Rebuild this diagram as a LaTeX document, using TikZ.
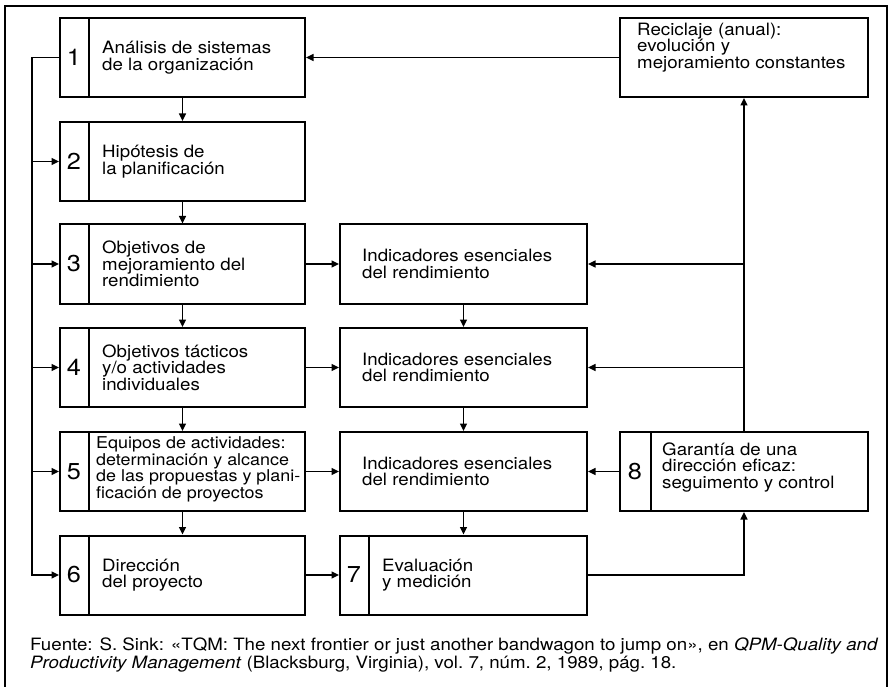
\documentclass[tikz,border=0pt]{standalone}
\usepackage{fontspec}
\setmainfont[FakeStretch=1.1]{TeX Gyre Heros}
\usetikzlibrary{arrows.meta}
\tikzset{
 bx/.style={draw, line width=2pt, inner sep=0pt, minimum height=79pt},
 w1/.style={minimum width=245pt},
 w2/.style={minimum width=247pt},
 w3/.style={minimum width=248pt},
 num/.style={font=\fontsize{23}{23}\selectfont, inner sep=0pt},
 txt/.style={font=\fontsize{17}{16.5}\selectfont, align=left, anchor=west, inner sep=0pt},
 txtsm/.style={font=\fontsize{16.3}{16.5}\selectfont, align=left, anchor=west, inner sep=0pt},
 captxt/.style={font=\fontsize{17}{18}\selectfont, anchor=base west, inner sep=0pt},
 arr/.style={line width=1.5pt, -{Triangle[length=7.5pt,width=7pt]}},
 ln/.style={line width=1.5pt},
 dv/.style={line width=2pt},
}
\begin{document}
\begin{tikzpicture}[x=1pt,y=-1pt]
\useasboundingbox (0,0) rectangle (892,687);
% frame
\draw[ln] (5,687) -- (5,6) -- (887,6) -- (887,687);
% boxes
\node[bx,w1] (b1) at (182.5,57.5) {};
\node[bx,w1] (b2) at (182.5,161.5) {};
\node[bx,w1] (b3) at (182.5,264) {};
\node[bx,w1] (b4) at (182.5,367.5) {};
\node[bx,w1] (b5) at (182.5,471.5) {};
\node[bx,w1] (b6) at (182.5,575) {};
\node[bx,w2] (i3) at (463.5,264) {};
\node[bx,w2] (i4) at (463.5,367.5) {};
\node[bx,w2] (i5) at (463.5,471.5) {};
\node[bx,w2] (b7) at (463.5,575) {};
\node[bx,w3] (rec) at (744,57.5) {};
\node[bx,w3] (b8) at (744,471.5) {};
% dividers
\foreach \b in {b1,b2,b3,b4,b5,b6,b7}
  \draw[dv] ([xshift=30pt]\b.north west) -- ([xshift=30pt]\b.south west);
\draw[dv] ([xshift=32pt]b8.north west) -- ([xshift=32pt]b8.south west);
% numbers
\node[num] (n1) at ([xshift=15pt]b1.west) {1};
\node[num] (n2) at ([xshift=15pt]b2.west) {2};
\node[num] (n3) at ([xshift=15pt]b3.west) {3};
\node[num] (n4) at ([xshift=15pt]b4.west) {4};
\node[num] (n5) at ([xshift=15pt]b5.west) {5};
\node[num] (n6) at ([xshift=15pt]b6.west) {6};
\node[num] (n7) at ([xshift=15pt]b7.west) {7};
\node[num] (n8) at ([xshift=16pt]b8.west) {8};
% texts
\node[txt] (t1) at ([xshift=43pt]b1.west) {Análisis de sistemas\\de la organización};
\node[txt] (t2) at ([xshift=43pt]b2.west) {Hipótesis de\\la planificación};
\node[txt] (t3) at ([xshift=43pt]b3.west) {Objetivos de\\mejoramiento del\\rendimiento};
\node[txt] (t4) at ([xshift=43pt]b4.west) {Objetivos tácticos\\y/o actividades\\individuales};
\node[txtsm] (t5) at ([xshift=37pt,yshift=2pt]b5.west) {Equipos de actividades:\\determinación y alcance\\de las propuestas y plani-\\ficación de proyectos};
\node[txt] (t6) at ([xshift=43pt]b6.west) {Dirección\\del proyecto};
\node[txt] (ti3) at ([xshift=23pt]i3.west) {Indicadores esenciales\\del rendimiento};
\node[txt] (ti4) at ([xshift=23pt]i4.west) {Indicadores esenciales\\del rendimiento};
\node[txt] (ti5) at ([xshift=23pt]i5.west) {Indicadores esenciales\\del rendimiento};
\node[txt] (t7) at ([xshift=43pt]b7.west) {Evaluación\\y medición};
\node[txt] (trec) at ([xshift=18pt,yshift=10pt]rec.west) {Reciclaje (anual):\\evolución y\\mejoramiento constantes};
\node[txt] (t8) at ([xshift=43pt,yshift=4pt]b8.west) {Garantía de una\\dirección eficaz:\\seguimento y control};
% column arrows
\draw[arr] (b1.south) -- (b2.north);
\draw[arr] (b2.south) -- (b3.north);
\draw[arr] (b3.south) -- (b4.north);
\draw[arr] (b4.south) -- (b5.north);
\draw[arr] (b5.south) -- (b6.north);
\draw[arr] (i3.south) -- (i4.north);
\draw[arr] (i4.south) -- (i5.north);
\draw[arr] (i5.south) -- (b7.north);
% row arrows
\draw[arr] (b3.east) -- (i3.west);
\draw[arr] (b4.east) -- (i4.west);
\draw[arr] (b5.east) -- (i5.west);
\draw[arr] (b6.east) -- (b7.west);
\draw[arr] (b8.west) -- (i5.east);
\draw[arr] (rec.west) -- (b1.east);
% right feedback
\draw[arr] (b8.north) -- (rec.south);
\draw[arr] (b8.north |- i3.east) -- (i3.east);
\draw[arr] (b8.north |- i4.east) -- (i4.east);
\draw[arr] (b7.east) -| (b8.south);
% left feedback
\coordinate (lt) at (32,57.5);
\draw[ln] (b1.west) -- (lt);
\draw[arr] (lt) |- (b6.west);
\draw[arr] (lt |- b2.west) -- (b2.west);
\draw[arr] (lt |- b3.west) -- (b3.west);
\draw[arr] (lt |- b4.west) -- (b4.west);
\draw[arr] (lt |- b5.west) -- (b5.west);
% caption
\node[captxt] (c1) at (30,650) {Fuente: S. Sink: «TQM: The next frontier or just another bandwagon to jump on», en \textit{QPM-Quality and}};
\node[captxt] (c2) at (30,668) {\textit{Productivity Management} (Blacksburg, Virginia), vol.~7, núm.~2, 1989, pág.~18.};
\end{tikzpicture}
\end{document}
